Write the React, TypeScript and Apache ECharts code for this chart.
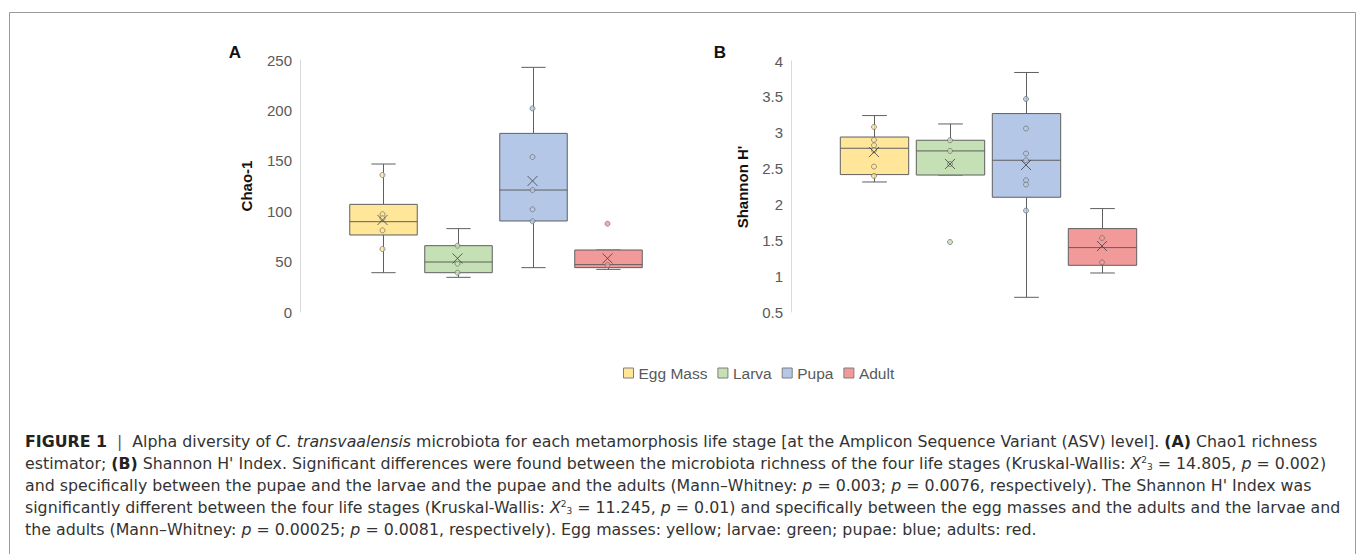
import React, { useEffect, useRef } from "react";
import * as echarts from "echarts";

const stages = ["Egg Mass", "Larva", "Pupa", "Adult"];
const colors = ["#FFE699", "#C5E0B4", "#B4C7E7", "#F29A9A"];

// [min, Q1, median, Q3, max]
const chaoBoxes = [
  [39, 76.4, 89.6, 106.8, 146.8],
  [34.4, 39, 49.6, 65.8, 82.7],
  [44, 90.3, 121, 177.2, 242.7],
  [42.3, 44, 47, 61.5, 61.5],
];
const chaoMeans = [91.3, 53.2, 130, 53.2];
const chaoPoints = [
  [135.9, 97, 93, 81, 62.5],
  [65.8, 47.9, 39],
  [202, 153.8, 121, 101.9, 90],
  [87.6, 46.6],
];

const shannonBoxes = [
  [2.313, 2.416, 2.783, 2.94, 3.239],
  [2.41, 2.41, 2.746, 2.895, 3.122],
  [0.705, 2.1, 2.616, 3.267, 3.84],
  [1.044, 1.151, 1.398, 1.663, 1.942],
];
const shannonMeans = [2.73, 2.564, 2.55, 1.42];
const shannonPoints = [
  [3.08, 2.9, 2.825, 2.755, 2.528, 2.397],
  [2.895, 2.746, 2.564, 1.476],
  [3.47, 3.058, 2.71, 2.616, 2.337, 2.277, 1.914],
  [1.532, 1.193],
];

const chaoAxis = { min: 0, max: 250, interval: 50 };
const shannonAxis = { min: 0.5, max: 4, interval: 0.5 };

const captionLines = [
  "{b|FIGURE 1}  {bar||}  Alpha diversity of {i|C. transvaalensis} microbiota for each metamorphosis life stage [at the Amplicon Sequence Variant (ASV) level]. {b|(A)} Chao1 richness",
  "estimator; {b|(B)} Shannon H' Index. Significant differences were found between the microbiota richness of the four life stages (Kruskal-Wallis: {i|X}{sup|2}{sub|3} = 14.805, {i|p} = 0.002)",
  "and specifically between the pupae and the larvae and the pupae and the adults (Mann–Whitney: {i|p} = 0.003; {i|p} = 0.0076, respectively). The Shannon H' Index was",
  "significantly different between the four life stages (Kruskal-Wallis: {i|X}{sup|2}{sub|3} = 11.245, {i|p} = 0.01) and specifically between the egg masses and the adults and the larvae and",
  "the adults (Mann–Whitney: {i|p} = 0.00025; {i|p} = 0.0081, respectively). Egg masses: yellow; larvae: green; pupae: blue; adults: red.",
];

const FONT = "'Liberation Sans', Arial, sans-serif";
const CAPFONT = "'DejaVu Sans', 'Liberation Sans', Arial, sans-serif";
const CAPSIZE = 15.8;
const LINE = "#5f5f5f";

function buildSeries(gi: number, boxes: number[][], means: number[], points: number[][]) {
  const out: any[] = [];
  for (let s = 0; s < stages.length; s++) {
    out.push({
      type: "custom",
      name: stages[s],
      xAxisIndex: gi,
      yAxisIndex: gi,
      data: [[s, ...boxes[s]]],
      encode: { x: 0, y: [1, 2, 3, 4, 5] },
      itemStyle: { color: colors[s] },
      z: 2,
      renderItem: (params: any, api: any) => {
        const x = api.value(0);
        const pMin = api.coord([x, api.value(1)]);
        const pQ1 = api.coord([x, api.value(2)]);
        const pMed = api.coord([x, api.value(3)]);
        const pQ3 = api.coord([x, api.value(4)]);
        const pMax = api.coord([x, api.value(5)]);
        const band = api.size([1, 0])[0];
        const bw = band * 0.9;
        const cap = bw * 0.36;
        const cx = Math.round(pMin[0]) + 0.5;
        const ls = { stroke: LINE, lineWidth: 1 };
        return {
          type: "group",
          children: [
            { type: "line", shape: { x1: cx, y1: pMax[1], x2: cx, y2: pQ3[1] }, style: ls },
            { type: "line", shape: { x1: cx, y1: pQ1[1], x2: cx, y2: pMin[1] }, style: ls },
            { type: "line", shape: { x1: cx - cap / 2, y1: pMax[1], x2: cx + cap / 2, y2: pMax[1] }, style: ls },
            { type: "line", shape: { x1: cx - cap / 2, y1: pMin[1], x2: cx + cap / 2, y2: pMin[1] }, style: ls },
            {
              type: "rect",
              shape: { x: cx - bw / 2, y: pQ3[1], width: bw, height: pQ1[1] - pQ3[1] },
              style: { fill: colors[s], stroke: LINE, lineWidth: 1 },
            },
            { type: "line", shape: { x1: cx - bw / 2, y1: pMed[1], x2: cx + bw / 2, y2: pMed[1] }, style: ls },
          ],
        };
      },
    });
    out.push({
      type: "scatter",
      xAxisIndex: gi,
      yAxisIndex: gi,
      data: points[s].map((v) => [s, v]),
      symbol: "circle",
      symbolSize: 5,
      itemStyle: { color: colors[s], borderColor: "#6f6f6f", borderWidth: 0.9 },
      z: 4,
      silent: true,
    });
    out.push({
      type: "scatter",
      xAxisIndex: gi,
      yAxisIndex: gi,
      data: [[s, means[s]]],
      symbol: "path://M0,0L10,10M10,0L0,10",
      symbolSize: 10,
      itemStyle: { color: "none", borderColor: "#404040", borderWidth: 1 },
      z: 5,
      silent: true,
    });
  }
  return out;
}

export default function App() {
  const ref = useRef<HTMLDivElement>(null);
  useEffect(() => {
    if (!ref.current) return;
    const chart = echarts.init(ref.current, undefined, { renderer: "svg" });
    const yAxisCommon = {
      type: "value",
      offset: 45,
      axisLine: { show: true, lineStyle: { color: "#d9d9d9", width: 1 } },
      axisTick: { show: false },
      splitLine: { show: false },
      axisLabel: { color: "#595959", fontSize: 15, fontFamily: FONT, margin: 8 },
    };
    const graphics: any[] = [
      {
        type: "polyline",
        shape: { points: [[9.5, 560], [9.5, 12.5], [1355.5, 12.5], [1355.5, 560]] },
        style: { stroke: "#9a9a9a", lineWidth: 1, fill: "none" },
        silent: true,
      },
      { type: "text", x: 235, y: 52.5, style: { text: "A", font: `bold 17px ${FONT}`, fill: "#111", align: "center", verticalAlign: "middle" } },
      { type: "text", x: 720, y: 52.5, style: { text: "B", font: `bold 17px ${FONT}`, fill: "#111", align: "center", verticalAlign: "middle" } },
      { type: "text", x: 246.5, y: 186, rotation: Math.PI / 2, style: { text: "Chao-1", font: `bold 15px ${FONT}`, fill: "#111", align: "center", verticalAlign: "middle" } },
      { type: "text", x: 742.5, y: 187, rotation: Math.PI / 2, style: { text: "Shannon H'", font: `bold 15px ${FONT}`, fill: "#111", align: "center", verticalAlign: "middle" } },
    ];
    captionLines.forEach((t, i) => {
      graphics.push({
        type: "text",
        x: 25,
        y: 441 + i * 22,
        style: {
          text: t,
          fontFamily: CAPFONT,
          fontSize: CAPSIZE,
          fill: "#333",
          verticalAlign: "middle",
          align: "left",
          rich: {
            b: { fontFamily: CAPFONT, fontSize: CAPSIZE, fontWeight: "bold", fill: "#222" },
            bar: { fontFamily: CAPFONT, fontSize: CAPSIZE, fill: "#555" },
            i: { fontFamily: CAPFONT, fontSize: CAPSIZE, fontStyle: "italic", fill: "#333" },
            sup: { fontFamily: CAPFONT, fontSize: 9, fill: "#333", verticalAlign: "top", lineHeight: 10 },
            sub: { fontFamily: CAPFONT, fontSize: 9, fill: "#333", verticalAlign: "bottom", lineHeight: 10 },
          },
        },
      });
    });

    chart.setOption({
      animation: false,
      backgroundColor: "#ffffff",
      grid: [
        { left: 345, top: 60, width: 300, height: 252 },
        { left: 836, top: 61, width: 304, height: 251 },
      ],
      xAxis: [0, 1].map((gi) => ({
        type: "category",
        gridIndex: gi,
        data: stages,
        boundaryGap: true,
        show: false,
      })),
      yAxis: [
        { ...yAxisCommon, gridIndex: 0, ...chaoAxis },
        { ...yAxisCommon, gridIndex: 1, ...shannonAxis },
      ],
      legend: {
        left: 618,
        top: 360,
        icon: "rect",
        itemWidth: 10,
        itemHeight: 10,
        itemGap: 10,
        textStyle: { color: "#595959", fontSize: 15.5, fontFamily: FONT },
        data: stages.map((n, i) => ({
          name: n,
          itemStyle: { color: colors[i], borderColor: "#7f7f7f", borderWidth: 1 },
        })),
        selectedMode: false,
      },
      graphic: graphics,
      series: [
        ...buildSeries(0, chaoBoxes, chaoMeans, chaoPoints),
        ...buildSeries(1, shannonBoxes, shannonMeans, shannonPoints),
      ],
    });
    return () => chart.dispose();
  }, []);
  return (
    <div
      ref={ref}
      style={{ position: "fixed", left: 0, top: 0, width: 1357, height: 554, background: "#fff" }}
    />
  );
}
